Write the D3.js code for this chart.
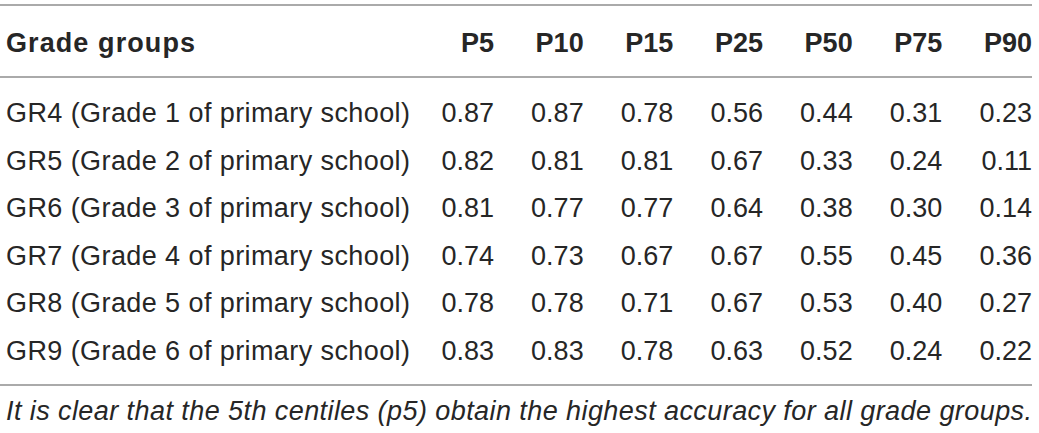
<!DOCTYPE html>
<html>
<head>
<meta charset="utf-8">
<title>Grade groups centiles</title>
<script src="https://cdn.jsdelivr.net/npm/d3@7"></script>
<style>
  body { margin: 0; background: #fff; }
  svg text { font-family: "Liberation Sans", Arial, Helvetica, sans-serif; fill: #262626; }
</style>
</head>
<body>
<div id="table"></div>
<script>
// table data
var headerLabel = "Grade groups";
var columns = ["P5", "P10", "P15", "P25", "P50", "P75", "P90"];
var groups = [
  "GR4 (Grade 1 of primary school)",
  "GR5 (Grade 2 of primary school)",
  "GR6 (Grade 3 of primary school)",
  "GR7 (Grade 4 of primary school)",
  "GR8 (Grade 5 of primary school)",
  "GR9 (Grade 6 of primary school)"
];
var gr4 = [0.87, 0.87, 0.78, 0.56, 0.44, 0.31, 0.23];
var gr5 = [0.82, 0.81, 0.81, 0.67, 0.33, 0.24, 0.11];
var gr6 = [0.81, 0.77, 0.77, 0.64, 0.38, 0.30, 0.14];
var gr7 = [0.74, 0.73, 0.67, 0.67, 0.55, 0.45, 0.36];
var gr8 = [0.78, 0.78, 0.71, 0.67, 0.53, 0.40, 0.27];
var gr9 = [0.83, 0.83, 0.78, 0.63, 0.52, 0.24, 0.22];
var caption = "It is clear that the 5th centiles (p5) obtain the highest accuracy for all grade groups.";

var rows = [gr4, gr5, gr6, gr7, gr8, gr9];

var width = 1039, height = 433;
var lineColor = "#aaaaaa";
var fs = 27;

var svg = d3.select("#table").append("svg")
    .attr("width", width)
    .attr("height", height);

// column right edges
var x = d3.scalePoint().domain(columns).range([494, 1032]);
// row baselines
var y = d3.scalePoint().domain(groups).range([122, 360]);

// rules
[5, 77, 385].forEach(function(ly) {
  svg.append("line")
    .attr("x1", 0).attr("x2", 1032)
    .attr("y1", ly).attr("y2", ly)
    .attr("stroke", lineColor).attr("stroke-width", 2);
});

// header
svg.append("text")
  .attr("x", 6).attr("y", 52)
  .attr("font-size", fs).attr("font-weight", "bold")
  .attr("textLength", 189).attr("lengthAdjust", "spacing")
  .text(headerLabel);

svg.selectAll("text.col").data(columns).enter().append("text")
  .attr("class", "col")
  .attr("x", function(d) { return x(d); })
  .attr("y", 52)
  .attr("text-anchor", "end")
  .attr("font-size", fs).attr("font-weight", "bold")
  .text(function(d) { return d; });

// rows
var g = svg.selectAll("g.row").data(rows).enter().append("g")
  .attr("class", "row")
  .attr("transform", function(d, i) { return "translate(0," + y(groups[i]) + ")"; });

g.append("text")
  .attr("x", 6)
  .attr("font-size", fs)
  .attr("textLength", 404).attr("lengthAdjust", "spacing")
  .text(function(d, i) { return groups[i]; });

g.selectAll("text.val").data(function(d) { return d; }).enter().append("text")
  .attr("class", "val")
  .attr("x", function(d, i) { return x(columns[i]); })
  .attr("text-anchor", "end")
  .attr("font-size", fs)
  .text(function(d) { return d3.format(".2f")(d); });

// footnote
svg.append("text")
  .attr("x", 6).attr("y", 420)
  .attr("font-size", fs).attr("font-style", "italic")
  .attr("textLength", 1026).attr("lengthAdjust", "spacing")
  .text(caption);
</script>
</body>
</html>
